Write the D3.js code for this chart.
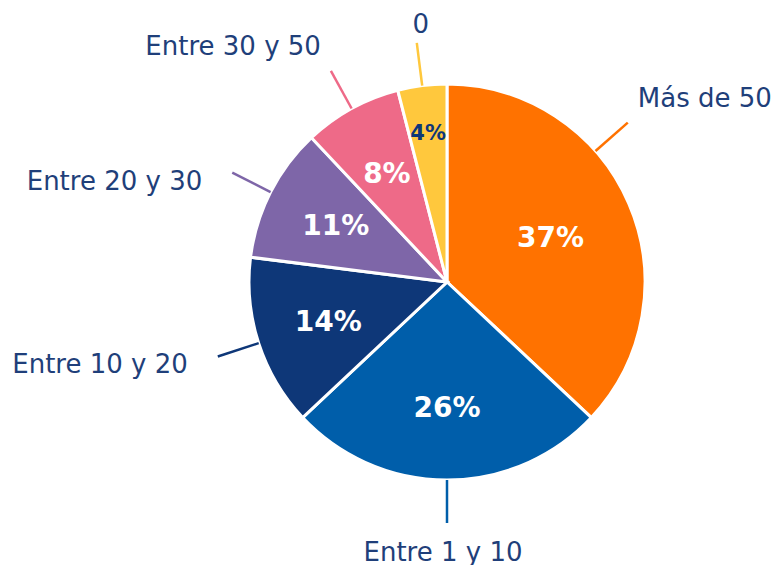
<!DOCTYPE html>
<html>
<head>
<meta charset="utf-8">
<script src="https://cdn.jsdelivr.net/npm/d3@7"></script>
<style>
  body { margin: 0; background: #fff; }
</style>
</head>
<body>
<div id="chart"></div>
<script>
// categories and shares (percent)
var categories = ["Más de 50", "Entre 1 y 10", "Entre 10 y 20", "Entre 20 y 30", "Entre 30 y 50", "0"];
var shares = [37, 26, 14, 11, 8, 4];
var sliceColors = ["#FF7200", "#005EAA", "#0E3778", "#7E66A8", "#EE6A88", "#FFC83D"];

var width = 781;
var height = 565;
var cx = 447, cy = 282;
var radius = 198;
var textColor = "#1F3F7A";
var font = "'DejaVu Sans', sans-serif";

var data = categories.map(function(c, i) {
    return { name: c, value: shares[i], color: sliceColors[i] };
});

var svg = d3.select("#chart")
    .append("svg")
    .attr("width", width)
    .attr("height", height);

var g = svg.append("g")
    .attr("transform", "translate(" + cx + "," + cy + ")");

var pie = d3.pie()
    .sort(null)
    .value(function(d) { return d.value; });

var arc = d3.arc()
    .innerRadius(0)
    .outerRadius(radius);

var arcs = pie(data);

// slices
g.selectAll(".slice")
    .data(arcs)
    .enter()
    .append("path")
    .attr("class", "slice")
    .attr("d", arc)
    .attr("fill", function(d) { return d.data.color; })
    .attr("stroke", "#fff")
    .attr("stroke-width", 3);

// percent labels inside
function labelRadius(d) {
    if (d.data.value < 5) return radius * 0.76;
    if (d.data.value > 30) return radius * 0.57;
    return radius * 0.63;
}
g.selectAll(".pct")
    .data(arcs)
    .enter()
    .append("text")
    .attr("class", "pct")
    .attr("x", function(d) { var a = (d.startAngle + d.endAngle) / 2; return labelRadius(d) * Math.sin(a); })
    .attr("y", function(d) { var a = (d.startAngle + d.endAngle) / 2; return -labelRadius(d) * Math.cos(a); })
    .attr("dy", "0.36em")
    .attr("text-anchor", "middle")
    .attr("font-family", font)
    .attr("font-weight", "bold")
    .attr("font-size", function(d) { return d.data.value < 5 ? 21 : 28; })
    .attr("fill", function(d) { return d.data.value < 5 ? "#0E3778" : "#fff"; })
    .text(function(d) { return d.data.value + "%"; });

// leader lines + category labels
// first label was moved up in the original to stay inside the frame
var leaderShift = { "Más de 50": -18 * Math.PI / 180 };

arcs.forEach(function(d) {
    var a = (d.startAngle + d.endAngle) / 2 + (leaderShift[d.data.name] || 0);
    var s = Math.sin(a), c = Math.cos(a);
    var x1 = radius * s, y1 = -radius * c;
    var x2 = (radius + 43) * s, y2 = -(radius + 43) * c;

    g.append("line")
        .attr("x1", x1).attr("y1", y1)
        .attr("x2", x2).attr("y2", y2)
        .attr("stroke", d.data.color)
        .attr("stroke-width", 2.5);

    var tx, ty, anchor;
    if (Math.abs(s) < 0.3) {
        anchor = "middle";
        tx = x2 - 4 * Math.sign(s);
        ty = c > 0 ? y2 - 10 : y2 + 38;
    } else {
        anchor = s > 0 ? "start" : "end";
        var gap = c > 0.6 ? 10 : 30;
        tx = x2 + (s > 0 ? gap : -gap);
        ty = c > 0.6 ? y2 - 16 : y2 + 17;
    }

    g.append("text")
        .attr("x", tx)
        .attr("y", ty)
        .attr("text-anchor", anchor)
        .attr("font-family", font)
        .attr("font-size", 26)
        .attr("fill", textColor)
        .text(d.data.name);
});
</script>
</body>
</html>
